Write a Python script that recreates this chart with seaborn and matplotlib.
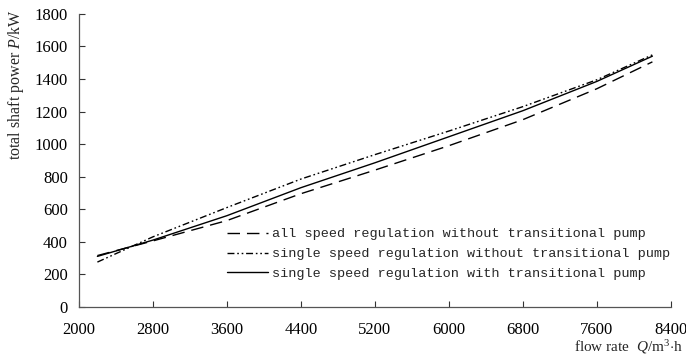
import matplotlib.pyplot as plt
import matplotlib.ticker as mticker
import pandas as pd
import seaborn as sns

# flow rate Q (m3/h)
flow = [2200, 2800, 3600, 4400, 5200, 6000, 6800, 7600, 8200]

# total shaft power P (kW)
all_speed_no_tp = [315, 405, 530, 695, 840, 990, 1150, 1340, 1505]
single_speed_no_tp = [275, 430, 610, 785, 935, 1080, 1230, 1395, 1548]
single_speed_tp = [310, 410, 560, 732, 885, 1045, 1205, 1385, 1540]

LABELS = [
    "all speed regulation without transitional pump",
    "single speed regulation without transitional pump",
    "single speed regulation with transitional pump",
]

xticks = [2000, 2800, 3600, 4400, 5200, 6000, 6800, 7600, 8400]
yticks = [0, 200, 400, 600, 800, 1000, 1200, 1400, 1600, 1800]

df = pd.concat([
    pd.DataFrame({"Q": flow, "P": all_speed_no_tp, "series": LABELS[0]}),
    pd.DataFrame({"Q": flow, "P": single_speed_no_tp, "series": LABELS[1]}),
    pd.DataFrame({"Q": flow, "P": single_speed_tp, "series": LABELS[2]}),
], ignore_index=True)

sns.set_theme(style="ticks")
plt.rcParams["font.family"] = ["Liberation Serif", "DejaVu Serif"]
plt.rcParams["mathtext.fontset"] = "custom"
plt.rcParams["mathtext.it"] = "Liberation Serif:italic"
plt.rcParams["mathtext.rm"] = "Liberation Serif"

fig = plt.figure(figsize=(6.86, 3.64), dpi=100)
ax = fig.add_axes([0.115, 0.157, 0.863, 0.805])

dashes = {
    LABELS[0]: (9, 5),
    LABELS[1]: (5, 2, 1.2, 2, 1.2, 2),
    LABELS[2]: "",
}
sns.lineplot(data=df, x="Q", y="P", style="series", dashes=dashes,
             color="black", linewidth=1.0, ax=ax, legend=False)

handles = []
for lab in LABELS:
    ls = (0, dashes[lab]) if dashes[lab] else "-"
    h, = ax.plot([], [], color="black", linewidth=1.0, linestyle=ls, label=lab)
    handles.append(h)
ax.legend(handles=handles, loc="lower right", bbox_to_anchor=(1.02, 0.05),
          frameon=False, handlelength=3.0, handletextpad=0.35,
          labelspacing=0.55, prop={"family": "Liberation Mono", "size": 9.7})

ax.set_xlim(2000, 8400)
ax.set_ylim(0, 1800)
ax.xaxis.set_major_locator(mticker.FixedLocator(xticks))
ax.yaxis.set_major_locator(mticker.FixedLocator(yticks))
ax.tick_params(direction="in", length=4, width=0.8, colors="#333333",
               labelsize=12, labelcolor="black")
ax.tick_params(axis="x", pad=11)
ax.tick_params(axis="y", pad=8)
for s in ("top", "right"):
    ax.spines[s].set_visible(False)
for s in ("left", "bottom"):
    ax.spines[s].set_color("#555555")
    ax.spines[s].set_linewidth(0.9)

ax.set_ylabel(r"total shaft power $\it{P}$/kW", fontsize=11.5)
ax.yaxis.set_label_coords(-0.09, 0.76)
ax.set_xlabel(r"flow rate  $\it{Q}$/m$^3$$\cdot$h", fontsize=11)
ax.xaxis.set_label_coords(1.02, -0.105)
ax.xaxis.label.set_horizontalalignment("right")

fig.savefig("out.png", dpi=100)
